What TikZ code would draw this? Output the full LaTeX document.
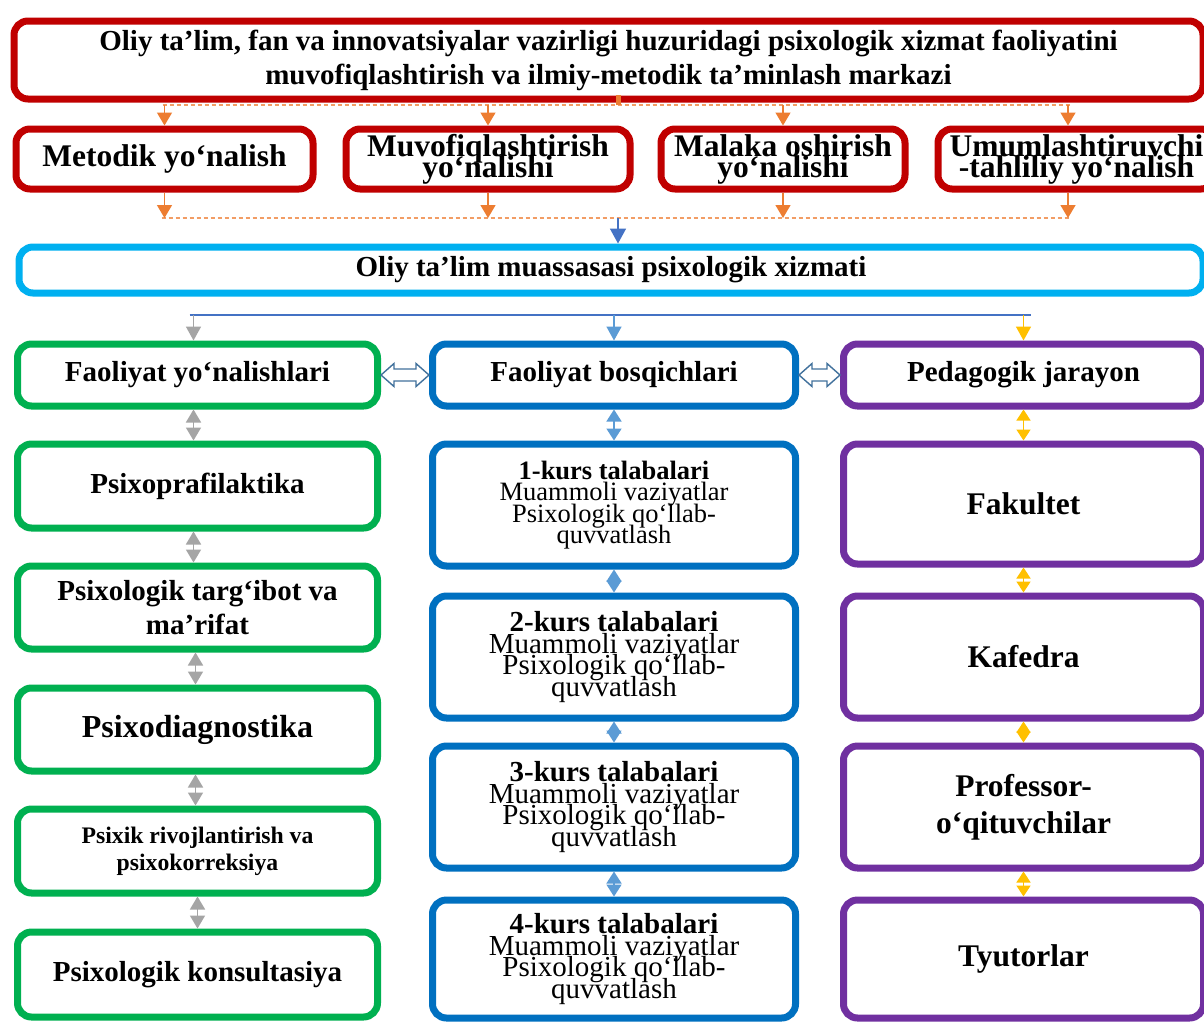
\documentclass[tikz,border=0pt]{standalone}
\usepackage{fontspec}
\setmainfont{Liberation Serif}
\usepackage{tikz}
\usetikzlibrary{arrows.meta,calc}
\definecolor{boxred}{HTML}{C00000}
\definecolor{boxcyan}{HTML}{00B0F0}
\definecolor{boxgreen}{HTML}{00B050}
\definecolor{boxblue}{HTML}{0070C0}
\definecolor{boxpurple}{HTML}{7030A0}
\definecolor{linkorange}{HTML}{ED7D31}
\definecolor{linkblue}{HTML}{4472C4}
\definecolor{linkgray}{HTML}{A5A5A5}
\definecolor{linklblue}{HTML}{5B9BD5}
\definecolor{linkgold}{HTML}{FFC000}
\definecolor{hollowblue}{HTML}{41719C}
\tikzset{
    blok/.style={draw, rounded corners=14pt, line width=7pt, fill=white, align=center, inner sep=2pt},
    redbox/.style={blok, draw=boxred},
    cyanbox/.style={blok, draw=boxcyan},
    greenbox/.style={blok, draw=boxgreen},
    bluebox/.style={blok, draw=boxblue},
    purplebox/.style={blok, draw=boxpurple},
    sz/.style 2 args={minimum width=#1pt, minimum height=#2pt},
    fnt/.style 2 args={font={\fontsize{#1}{#2}\selectfont\bfseries\lineskiplimit=-40pt\relax}},
    kursfnt/.style 2 args={font={\fontsize{#1}{#2}\selectfont\lineskiplimit=-40pt\relax}},
    orstub/.style={draw=linkorange, line width=5pt},
    ordash/.style={draw=linkorange!75, line width=1.3pt, dash pattern=on 4pt off 3pt},
    orarrow/.style={draw=linkorange, line width=1.4pt, -{Triangle[width=15pt,length=13pt]}},
    bluearrow/.style={draw=linkblue, line width=1.6pt, -{Triangle[width=16pt,length=15pt]}},
    blueline/.style={draw=linkblue, line width=1.6pt},
    grayarrow/.style={draw=linkgray, line width=1.6pt, -{Triangle[width=15pt,length=14pt]}},
    lbluearrow/.style={draw=linklblue, line width=1.6pt, -{Triangle[width=15pt,length=14pt]}},
    goldarrow/.style={draw=linkgold, line width=1.6pt, -{Triangle[width=15pt,length=14pt]}},
    graydbl/.style={draw=linkgray, line width=1.6pt, {Triangle[width=15pt,length=13pt]}-{Triangle[width=15pt,length=13pt]}},
    bluedbl/.style={draw=linklblue, line width=1.6pt, {Triangle[width=15pt,length=12pt]}-{Triangle[width=15pt,length=12pt]}},
    golddbl/.style={draw=linkgold, line width=1.6pt, {Triangle[width=14pt,length=11pt]}-{Triangle[width=14pt,length=11pt]}},
    hollow/.style={draw=hollowblue, line width=1.4pt, fill=white, line join=miter},
}
\newcommand{\hollowarrow}[2]{%
    \draw[hollow] (#1) -- ++(13,-11.5) -- ++(0,5.5) -- ($(#2)+(-13,-6)$) -- ++(0,-5.5) -- (#2)
        -- ++(-13,11.5) -- ++(0,-5.5) -- ($(#1)+(13,6)$) -- ++(0,5.5) -- cycle;}

\begin{document}
\begin{tikzpicture}[x=1pt, y=-1pt]
	\useasboundingbox (0,0) rectangle (1204,1021);
	\clip (0,0) rectangle (1204,1021);
	\fill[white] (0,0) rectangle (1204,1021);
	\node[redbox, sz={1189}{78}, fnt={29}{34}] (markaz) at (608.5,60) {Oliy ta’lim, fan va innovatsiyalar vazirligi huzuridagi psixologik xizmat faoliyatini\\muvofiqlashtirish va ilmiy-metodik ta’minlash markazi};
	\node[redbox, sz={297}{60}, fnt={31.5}{21}] (metodik) at (164.5,159) {Metodik yo‘nalish};
	\node[redbox, sz={284}{60}, fnt={31.5}{21}] (muvof) at (488,159) {Muvofiqlashtirish\\yo‘nalishi};
	\node[redbox, sz={244}{60}, fnt={31.5}{21}] (malaka) at (783,159) {Malaka oshirish\\yo‘nalishi};
	\node[redbox, sz={277}{60}, fnt={31.5}{21}] (umum) at (1076.5,159) {Umumlashtiruvchi\\-tahliliy yo‘nalish};
	\node[cyanbox, sz={1184}{46}, fnt={29}{34}] (muassasa) at (611,270) {Oliy ta’lim muassasasi psixologik xizmati};
	\node[greenbox, sz={360}{62}, fnt={29}{34}] (yonalish) at (197.5,375) {Faoliyat yo‘nalishlari};
	\node[bluebox, sz={363}{62}, fnt={29}{34}] (bosqich) at (614,375) {Faoliyat bosqichlari};
	\node[purplebox, sz={360}{62}, fnt={29}{34}] (jarayon) at (1023.5,375) {Pedagogik jarayon};
	\node[greenbox, sz={360}{84}, fnt={29}{34}] (profil) at (197.5,486) {Psixoprafilaktika};
	\node[greenbox, sz={360}{83}, fnt={29}{34}] (targ) at (197.5,607.5) {Psixologik targ‘ibot va\\ma’rifat};
	\node[greenbox, sz={360}{83}, fnt={32}{34}] (diag) at (197.5,729.5) {Psixodiagnostika};
	\node[greenbox, sz={360}{84}, fnt={23.7}{27}] (korr) at (197.5,851) {Psixik rivojlantirish va\\psixokorreksiya};
	\node[greenbox, sz={360}{85}, fnt={29}{34}] (kons) at (197.5,974.5) {Psixologik konsultasiya};
	\node[bluebox, sz={363}{122}, kursfnt={26.5}{21.5}] (kurs1) at (614,505) {\textbf{1-kurs talabalari}\\Muammoli vaziyatlar\\Psixologik qo‘llab-\\quvvatlash};
	\node[bluebox, sz={363}{122}, kursfnt={29}{21.7}] (kurs2) at (614,657) {\textbf{2-kurs talabalari}\\Muammoli vaziyatlar\\Psixologik qo‘llab-\\quvvatlash};
	\node[bluebox, sz={363}{122}, kursfnt={29}{21.7}] (kurs3) at (614,807) {\textbf{3-kurs talabalari}\\Muammoli vaziyatlar\\Psixologik qo‘llab-\\quvvatlash};
	\node[bluebox, sz={363}{118}, kursfnt={29}{21.7}] (kurs4) at (614,959) {\textbf{4-kurs talabalari}\\Muammoli vaziyatlar\\Psixologik qo‘llab-\\quvvatlash};
	\node[purplebox, sz={360}{120}, fnt={31.5}{37}] (fakultet) at (1023.5,504) {Fakultet};
	\node[purplebox, sz={360}{122}, fnt={31.5}{37}] (kafedra) at (1023.5,657) {Kafedra};
	\node[purplebox, sz={360}{122}, fnt={31.5}{37}] (oqituvchi) at (1023.5,807) {Professor-\\o‘qituvchilar};
	\node[purplebox, sz={360}{118}, fnt={31.5}{37}] (tyutor) at (1023.5,959) {Tyutorlar};
	\coordinate (tophub) at (618,105);
	\coordinate (midhub) at (618,218);
	\coordinate (lowhub) at (614,315);
	\draw[ordash] ($(metodik.north |- tophub)+(-2,0)$) -- ($(umum.north |- tophub)+(-7,0)$);
	\draw[orstub] ($(tophub)+(0,-10)$) -- (tophub);
	\draw[orarrow] (metodik.north |- tophub) -- (metodik.north);
	\draw[orarrow] (muvof.north |- tophub) -- (muvof.north);
	\draw[orarrow] (malaka.north |- tophub) -- (malaka.north);
	\draw[orarrow] ($(umum.north |- tophub)+(-8.5,0)$) -- ($(umum.north)+(-8.5,0)$);
	\draw[ordash] ($(metodik.south |- midhub)+(-3,0)$) -- ($(umum.south |- midhub)+(-6,0)$);
	\draw[orarrow] (metodik.south) -- (metodik.south |- midhub);
	\draw[orarrow] (muvof.south) -- (muvof.south |- midhub);
	\draw[orarrow] (malaka.south) -- (malaka.south |- midhub);
	\draw[orarrow] ($(umum.south)+(-8.5,0)$) -- ($(umum.south |- midhub)+(-8.5,0)$);
	\draw[bluearrow] (midhub) -- (midhub |- muassasa.north);
	\draw[blueline] ($(yonalish.north |- lowhub)+(-8,0)$) -- ($(jarayon.north |- lowhub)+(7,0)$);
	\draw[grayarrow] ($(yonalish.north |- lowhub)+(-4,0)$) -- ($(yonalish.north)+(-4,0)$);
	\draw[lbluearrow] (lowhub) -- (bosqich.north);
	\draw[goldarrow] (jarayon.north |- lowhub) -- (jarayon.north);
	\hollowarrow{yonalish.east}{bosqich.west}
	\hollowarrow{bosqich.east}{jarayon.west}
	\draw[graydbl] ($(yonalish.south)+(-4,0)$) -- ($(profil.north)+(-4,0)$);
	\draw[graydbl] ($(profil.south)+(-4,0)$) -- ($(targ.north)+(-4,0)$);
	\draw[graydbl] ($(targ.south)+(-2,0)$) -- ($(diag.north)+(-2,0)$);
	\draw[graydbl] ($(diag.south)+(-2,0)$) -- ($(korr.north)+(-2,0)$);
	\draw[graydbl] (korr.south) -- (kons.north);
	\draw[bluedbl] (bosqich.south) -- (kurs1.north);
	\draw[bluedbl] (kurs1.south) -- (kurs2.north);
	\draw[bluedbl] (kurs2.south) -- (kurs3.north);
	\draw[bluedbl] (kurs3.south) -- (kurs4.north);
	\draw[golddbl] (jarayon.south) -- (fakultet.north);
	\draw[golddbl] (fakultet.south) -- (kafedra.north);
	\draw[golddbl] (kafedra.south) -- (oqituvchi.north);
	\draw[golddbl] (oqituvchi.south) -- (tyutor.north);
\end{tikzpicture}
\end{document}
